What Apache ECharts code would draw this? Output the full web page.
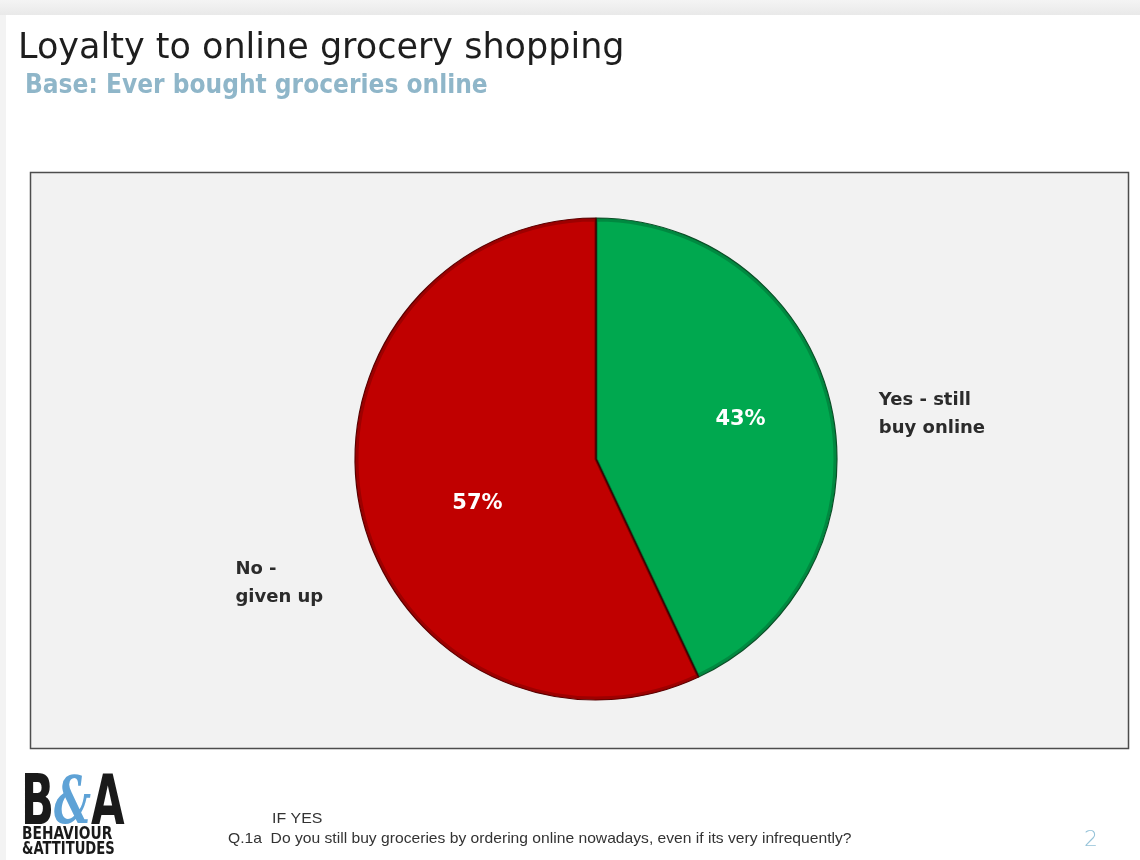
<!DOCTYPE html>
<html>
<head>
<meta charset="utf-8">
<script src="https://cdn.jsdelivr.net/npm/echarts@6/dist/echarts.min.js"></script>
<style>
  html, body { margin: 0; padding: 0; background: #ffffff; }
  #chart { width: 1140px; height: 860px; }
</style>
</head>
<body>
<div id="chart"></div>
<script>
// Survey result: still buying groceries online?
const categories = ['Yes - still\nbuy online', 'No -\ngiven up'];
const shares = [43, 57];
const sliceColors = ['#00a84f', '#c00000'];
const sliceEdges = ['#0b4f27', '#5a0000'];

const titleText = 'Loyalty to online grocery shopping';
const subtitleText = 'Base: Ever bought groceries online';
const filterText = 'IF YES';
const questionText = 'Q.1a  Do you still buy groceries by ordering online nowadays, even if its very infrequently?';
const pageNumber = '2';

const pieData = categories.map((name, i) => ({
  name: name,
  value: shares[i],
  itemStyle: { color: sliceColors[i], borderColor: sliceEdges[i] }
}));

const PIE_CENTER = [596, 459];
const PIE_RADIUS = 241;

const chart = echarts.init(document.getElementById('chart'), null, { renderer: 'canvas' });

chart.setOption({
  backgroundColor: '#ffffff',
  animation: false,
  title: [
    {
      text: titleText,
      left: 13, top: 26,
      textStyle: { fontFamily: 'DejaVu Sans', fontWeight: 'normal', fontSize: 35, color: '#1e1e1e' }
    },
    {
      text: subtitleText,
      left: 20, top: 68,
      textStyle: { fontFamily: 'DejaVu Sans Condensed', fontWeight: 'bold', fontSize: 26, color: '#8fb6c9' }
    }
  ],
  graphic: [
    // page frame: grey top band and left strip
    { type: 'rect', z: -10, shape: { x: 0, y: 0, width: 1140, height: 15 },
      style: { fill: new echarts.graphic.LinearGradient(0, 0, 0, 1, [
        { offset: 0, color: '#f4f4f4' }, { offset: 1, color: '#e9e9e9' }]) } },
    { type: 'rect', z: -10, shape: { x: 0, y: 15, width: 6, height: 845 },
      style: { fill: '#f3f3f3' } },
    // plot area box
    { type: 'rect', z: -5, shape: { x: 30.5, y: 172.5, width: 1098, height: 576 },
      style: { fill: '#f2f2f2', stroke: '#4d4d4d', lineWidth: 1.5 } },
    // B&A logo
    { type: 'text', x: 21, y: 775, scaleX: 0.62,
      style: { text: '{b|B}{a|&}{b|A}', rich: {
        b: { fontFamily: 'DejaVu Sans', fontWeight: 900, fontSize: 70, fill: '#1a1a1a', lineHeight: 62 },
        a: { fontFamily: 'DejaVu Serif', fontWeight: 'bold', fontStyle: 'italic', fontSize: 66, fill: '#5ea2d6', lineHeight: 62 }
      } } },
    { type: 'text', x: 22, y: 826, scaleX: 0.9,
      style: { text: 'BEHAVIOUR', fontFamily: 'DejaVu Sans Condensed', fontWeight: 900, fontSize: 17, fill: '#1a1a1a' } },
    { type: 'text', x: 22, y: 841, scaleX: 0.86,
      style: { text: '&ATTITUDES', fontFamily: 'DejaVu Sans Condensed', fontWeight: 900, fontSize: 17, fill: '#1a1a1a' } },
    // footer question text
    { type: 'text', x: 272, y: 811, scaleX: 1.06,
      style: { text: filterText, fontFamily: 'Liberation Sans', fontSize: 15, fill: '#333333' } },
    { type: 'text', x: 228, y: 831, scaleX: 1.043,
      style: { text: questionText, fontFamily: 'Liberation Sans', fontSize: 15, fill: '#333333' } },
    { type: 'text', x: 1084, y: 829,
      style: { text: pageNumber, fontFamily: 'DejaVu Sans', fontWeight: 'lighter', fontSize: 22, fill: '#94c2d8' } }
  ],
  series: [
    {
      // slices with percentage labels
      type: 'pie',
      center: PIE_CENTER,
      radius: PIE_RADIUS,
      startAngle: 90,
      clockwise: true,
      data: pieData,
      itemStyle: { borderWidth: 1.2 },
      label: {
        show: true,
        position: 'inside',
        formatter: p => p.value + '%',
        fontFamily: 'DejaVu Sans', fontWeight: 'bold', fontSize: 21, color: '#ffffff'
      },
      labelLine: { show: false },
      labelLayout: p => (p.dataIndex === 0 ? { dx: 24, dy: -13 } : { dx: 2, dy: 18 }),
      emphasis: { disabled: true }
    },
    {
      // soft dark rim just inside the slice edges
      type: 'pie',
      center: PIE_CENTER,
      radius: PIE_RADIUS - 2,
      startAngle: 90,
      clockwise: true,
      silent: true,
      data: categories.map((name, i) => ({ name: name, value: shares[i] })),
      itemStyle: { color: 'rgba(0,0,0,0)', borderColor: 'rgba(0,0,0,0.18)', borderWidth: 3 },
      label: { show: false },
      labelLine: { show: false },
      emphasis: { disabled: true }
    },
    {
      // category names outside the slices
      type: 'pie',
      center: PIE_CENTER,
      radius: PIE_RADIUS,
      startAngle: 90,
      clockwise: true,
      silent: true,
      data: categories.map((name, i) => ({ name: name, value: shares[i] })),
      itemStyle: { color: 'rgba(0,0,0,0)' },
      label: {
        show: true,
        position: 'outside',
        formatter: p => p.name,
        fontFamily: 'DejaVu Sans', fontWeight: 'bold', fontSize: 18, lineHeight: 28, color: '#2b2b2b'
      },
      labelLine: { show: false, length: 15, length2: 28 },
      labelLayout: p => (p.dataIndex === 0
        ? { dy: 11 }
        : { x: p.labelRect.x + 10, dy: 68, align: 'left' }),
      emphasis: { disabled: true }
    }
  ]
});
</script>
</body>
</html>
